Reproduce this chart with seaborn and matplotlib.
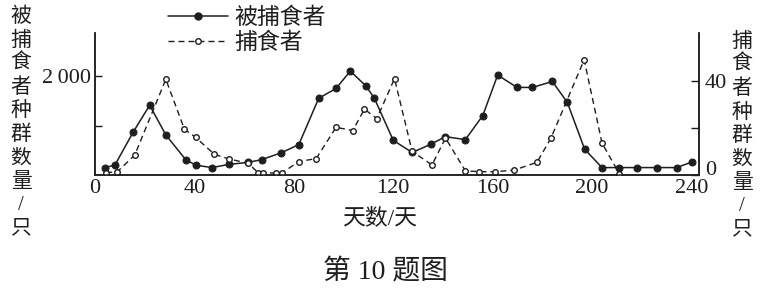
import matplotlib
matplotlib.use("Agg")
import matplotlib.pyplot as plt
from matplotlib.lines import Line2D
from matplotlib.ticker import FixedLocator, FixedFormatter, MultipleLocator
from matplotlib.transforms import ScaledTranslation
import seaborn as sns
import pandas as pd

# ---- data ----
prey_day = [4, 8, 15.4, 22, 28.5, 36.5, 40.5, 47, 54, 61.6, 67, 75, 82, 90, 97, 102.7,
            109, 112.4, 120, 127.6, 135, 141, 149, 156, 162, 169.8, 176, 184, 190, 197,
            204, 211, 218, 226, 234, 240]
prey_count = [150, 200, 870, 1410, 810, 310, 200, 150, 215, 255, 310, 450, 615, 1550, 1750, 2100,
              1800, 1550, 700, 455, 620, 775, 715, 1200, 2020, 1770, 1770, 1890, 1470, 520,
              150, 150, 150, 150, 150, 260]
pred_day = [4.5, 9, 16, 28.5, 36, 40.5, 48, 54, 61.6, 65.6, 67.6, 73, 75.4, 82, 89, 97,
            103.7, 108.4, 113.4, 120.5, 127.6, 135.6, 141, 149, 154.6, 161, 168.7, 177.8,
            183.4, 196.8, 204, 211]
pred_count = [1, 1.4, 8.5, 40.7, 19.4, 16, 8.8, 6.8, 5, 1, 1, 0.8, 1, 5.7, 7, 20.3,
              18.9, 28, 24, 41, 10, 4.3, 15.7, 1.8, 1.4, 1.4, 2.1, 5.4,
              15.6, 49, 13.5, 0.5]

series_labels = ["被捕食者", "捕食者"]
x_ticks = [0, 40, 80, 120, 160, 200, 240]
left_ticks = [1000, 2000]
left_tick_labels = ["", "2\u2009000"]
right_ticks = [0, 20, 40]
right_tick_labels = ["0", "", "40"]
x_label = "天数/天"
left_label = "被捕食者种群数量/只"
right_label = "捕食者种群数量/只"
caption = "第 10 题图"

prey_df = pd.DataFrame({"day": prey_day, "count": prey_count})
pred_df = pd.DataFrame({"day": pred_day, "count": pred_count})

sns.set_style("white")
FAM = ["Liberation Serif", "Noto Sans CJK SC", "DejaVu Sans"]
plt.rcParams["font.family"] = FAM
INK = "#1e1e1e"

fig = plt.figure(figsize=(7.63, 2.94), dpi=100)
ax = fig.add_axes([95 / 763, 1 - 175 / 294, (699 - 95) / 763, (175 - 33) / 294])
ax2 = ax.twinx()

sns.lineplot(data=prey_df, x="day", y="count", ax=ax, color=INK, lw=1.1,
             marker="o", markersize=5.0, markerfacecolor=INK, markeredgecolor=INK,
             label=series_labels[0], legend=False)
sns.lineplot(data=pred_df, x="day", y="count", ax=ax2, color=INK, lw=1.0,
             marker="o", markersize=4.0, markerfacecolor="white", markeredgecolor=INK,
             markeredgewidth=1.0, label=series_labels[1], legend=False)
for ln in ax2.get_lines():
    ln.set_dashes((4.3, 2.9))

ax.set_xlim(0, 243)
ax.set_ylim(0, 2870)
ax2.set_ylim(0, 60.4)

for a in (ax, ax2):
    a.spines["top"].set_visible(False)
    for s in a.spines.values():
        s.set_color(INK)
        s.set_linewidth(1.1)
    a.set_xlabel("")
    a.set_ylabel("")

ax.xaxis.set_major_locator(FixedLocator(x_ticks))
ax.xaxis.set_minor_locator(MultipleLocator(8))
ax.set_xticklabels([str(v) for v in x_ticks])
ax.yaxis.set_major_locator(FixedLocator(left_ticks))
ax.yaxis.set_major_formatter(FixedFormatter(left_tick_labels))
ax2.yaxis.set_major_locator(FixedLocator(right_ticks))
ax2.yaxis.set_major_formatter(FixedFormatter(right_tick_labels))

ax.tick_params(axis="x", which="major", direction="in", length=5, width=1.0, color=INK,
               labelsize=16, labelcolor=INK, pad=3)
ax.tick_params(axis="x", which="minor", direction="in", length=4, width=1.0, color=INK)
ax.tick_params(axis="y", direction="in", length=5, width=1.0, color=INK,
               labelsize=16, labelcolor=INK, pad=3, left=True)
ax2.tick_params(axis="y", direction="in", length=6, width=1.0, color=INK,
                labelsize=16, labelcolor=INK, pad=4, right=True)

for lab in ax.get_xticklabels() + ax.get_yticklabels() + ax2.get_yticklabels():
    lab.set_family(FAM)

# lift the right-hand "0" a little, as in the reference
fig.canvas.draw()
for lab in ax2.get_yticklabels():
    if lab.get_text() == "0":
        lab.set_transform(lab.get_transform() + ScaledTranslation(1 / 100, 7 / 100, fig.dpi_scale_trans))

# labels
fig.text(380 / 763, 1 - 219 / 294, x_label, ha="center", va="center",
         fontsize=16.5, color=INK, family=FAM)
fig.text(21 / 763, 1 - 123 / 294, "\n".join(left_label), ha="center", va="center",
         fontsize=15, color=INK, family=FAM, linespacing=1.3)
fig.text(742 / 763, 1 - 136 / 294, "\n".join(right_label), ha="center", va="center",
         fontsize=15, color=INK, family=FAM, linespacing=1.3)
fig.text(385 / 763, 1 - 272 / 294, caption, ha="center", va="center",
         fontsize=20, color=INK, family=FAM)

# legend
h1 = Line2D([], [], color=INK, lw=1.1, marker="o", markersize=5.0,
            markerfacecolor=INK, markeredgecolor=INK)
h2 = Line2D([], [], color=INK, lw=1.0, marker="o", markersize=4.0,
            markerfacecolor="white", markeredgecolor=INK, dashes=(4.3, 2.9))
fig.legend([h1, h2], series_labels, loc="upper left",
           bbox_to_anchor=(168 / 763, 1 - 8 / 294), frameon=False,
           prop={"family": FAM, "size": 16.5}, handlelength=2.6, handletextpad=0.3,
           labelspacing=0.15, borderpad=0, borderaxespad=0, labelcolor=INK)

fig.savefig("out.png", dpi=100, facecolor="white")
